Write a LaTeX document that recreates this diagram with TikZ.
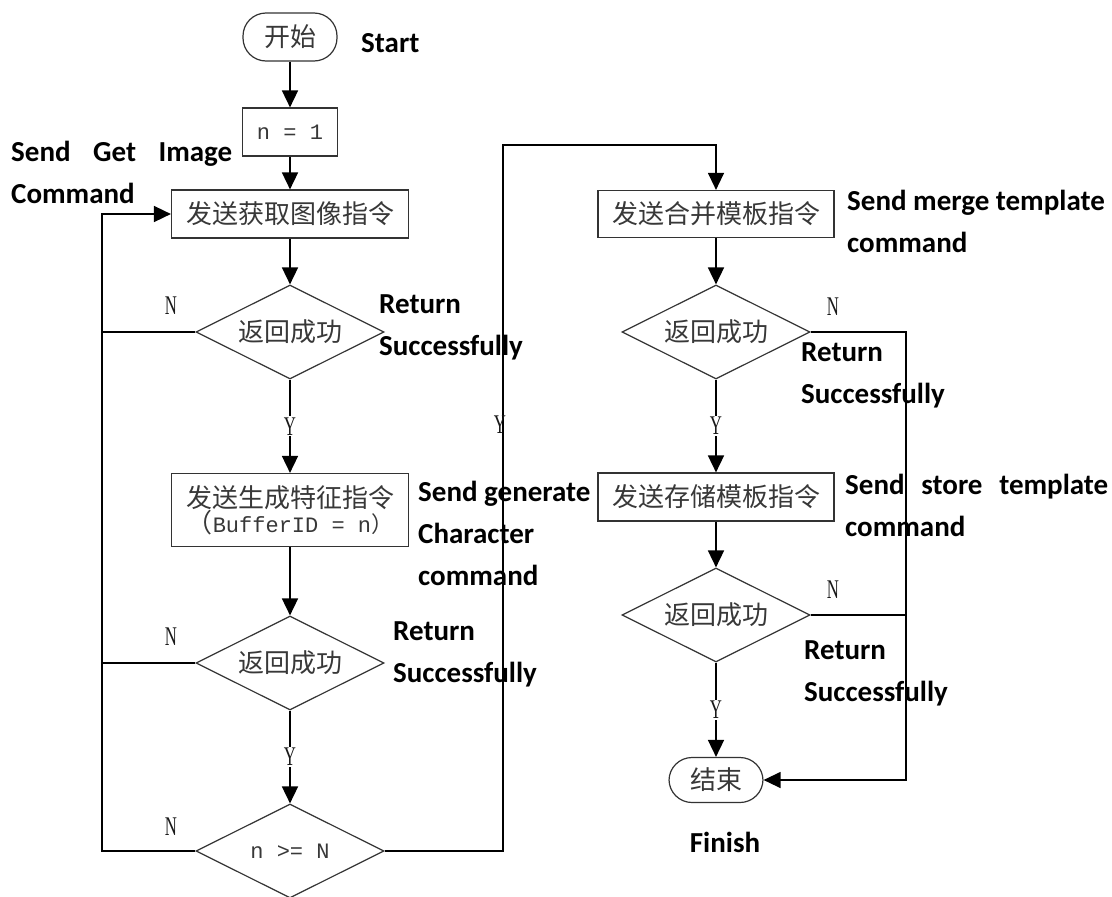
\documentclass[tikz,border=0pt]{standalone}
\usepackage{fontspec}
\setmainfont{Liberation Serif}
\newfontfamily\cjk{Noto Sans CJK SC}
\newfontfamily\labfont{Carlito}
\newfontfamily\monofont{Liberation Mono}
\usetikzlibrary{arrows.meta,shapes.geometric}
\tikzset{
  box/.style={draw=black!80, line width=1.2pt, minimum height=48pt, inner sep=0pt, text=black!78,
    font=\cjk\fontsize{26}{30}\selectfont},
  term/.style={box, rounded corners=23pt},
  dec/.style={draw=black!80, line width=1.2pt, diamond, shape aspect=2, minimum width=188pt, minimum height=94pt,
    inner sep=0pt, text=black!78, font=\cjk\fontsize{26}{30}\selectfont},
  conn/.style={line width=1.7pt, draw=black},
  thinconn/.style={line width=1.3pt, draw=black},
  arr/.style={-{Triangle[length=17pt,width=16pt]}},
  yn/.style={font=\fontsize{27}{27}\selectfont, text=black!90, inner sep=1pt},
  lab/.style={font=\labfont\bfseries\fontsize{29}{42}\selectfont, align=left, anchor=west, inner sep=0pt},
}
\newcommand{\cond}[1]{\scalebox{0.62}[1]{#1}}
\begin{document}
\begin{tikzpicture}[x=1pt,y=-1pt]
\useasboundingbox (0,0) rectangle (1112,897);
% left column
\node[term, minimum width=94pt] (start) at (290,37) {开始};
\node[box, minimum width=95pt, font=\monofont\fontsize{22}{26}\selectfont] (n1) at (290,132) {n = 1};
\node[box, minimum width=237pt] (get) at (290,214) {发送获取图像指令};
\node[dec] (d1) at (290,332) {返回成功};
\node[box, minimum width=237pt, minimum height=73pt, align=center] (gen) at (290,510)
  {发送生成特征指令\\[-5pt]{（\monofont\fontsize{22}{26}\selectfont BufferID = n\cjk）}};
\node[dec] (d2) at (290,663) {返回成功};
\node[dec, font=\monofont\fontsize{22}{26}\selectfont] (d3) at (290,851) {n >= N};
% right column
\node[box, minimum width=236pt, minimum height=47pt] (merge) at (716,214) {发送合并模板指令};
\node[dec] (d4) at (716,332) {返回成功};
\node[box, minimum width=236pt] (store) at (716,497) {发送存储模板指令};
\node[dec] (d5) at (716,615) {返回成功};
\node[term, minimum width=94pt, minimum height=45pt] (end) at (716,780) {结束};
% coordinates
\coordinate (L1) at (102,214);
\coordinate (L3) at (102,851);
\coordinate (R1) at (503,851);
\coordinate (R2) at (503,145);
\coordinate (R3) at (716,145);
\coordinate (E1) at (906,332);
\coordinate (E2) at (906,780);
% connectors left
\draw[conn,arr] (start) -- (n1);
\draw[conn,arr] (n1) -- (get);
\draw[conn,arr] (get) -- (d1);
\draw[conn,arr] (d1) -- node[yn, fill=white, pos=0.5] {\cond{Y}} (gen);
\draw[conn,arr] (gen) -- (d2);
\draw[conn,arr] (d2) -- node[yn, fill=white, pos=0.5] {\cond{Y}} (d3);
\draw[conn,arr] (d3.west) -- (L3) -- (L1) -- (get.west);
\draw[conn] (d1.west) -- (d1.west -| L1);
\draw[conn] (d2.west) -- (d2.west -| L1);
\node[yn] at (171,306) {\cond{N}};
\node[yn] at (171,637) {\cond{N}};
\node[yn] at (171,827) {\cond{N}};
% connector to right column
\draw[thinconn,arr] (d3.east) -- (R1) -- (R2) -- (R3) -- (merge.north);
\node[yn] at (500,425) {\cond{Y}};
% right column connectors
\draw[conn,arr] (merge) -- (d4);
\draw[conn,arr] (d4) -- node[yn, fill=white, pos=0.5] {\cond{Y}} (store);
\draw[conn,arr] (store) -- (d5);
\draw[conn,arr] (d5) -- node[yn, fill=white, pos=0.5] {\cond{Y}} (end);
\draw[thinconn,arr] (d4.east) -- (E1) -- (E2) -- (end.east);
\draw[thinconn] (d5.east) -- (d5.east -| E1);
\node[yn] at (833,307) {\cond{N}};
\node[yn] at (833,590) {\cond{N}};
% English labels
\node[lab] at (361,43) {Start};
\node[lab] at (11,172) {\makebox[221pt][s]{Send Get Image}\\Command};
\node[lab] at (379,327) {Return\\Successfully};
\node[lab] at (418,533) {Send generate\\Character\\command};
\node[lab] at (393,654) {Return\\Successfully};
\node[lab] at (847,221) {Send merge template\\command};
\node[lab] at (801,375) {Return\\Successfully};
\node[lab] at (845,505) {\makebox[263pt][s]{Send store template}\\command};
\node[lab] at (804,673) {Return\\Successfully};
\node[lab, anchor=center] at (725,842) {Finish};
\end{tikzpicture}
\end{document}
